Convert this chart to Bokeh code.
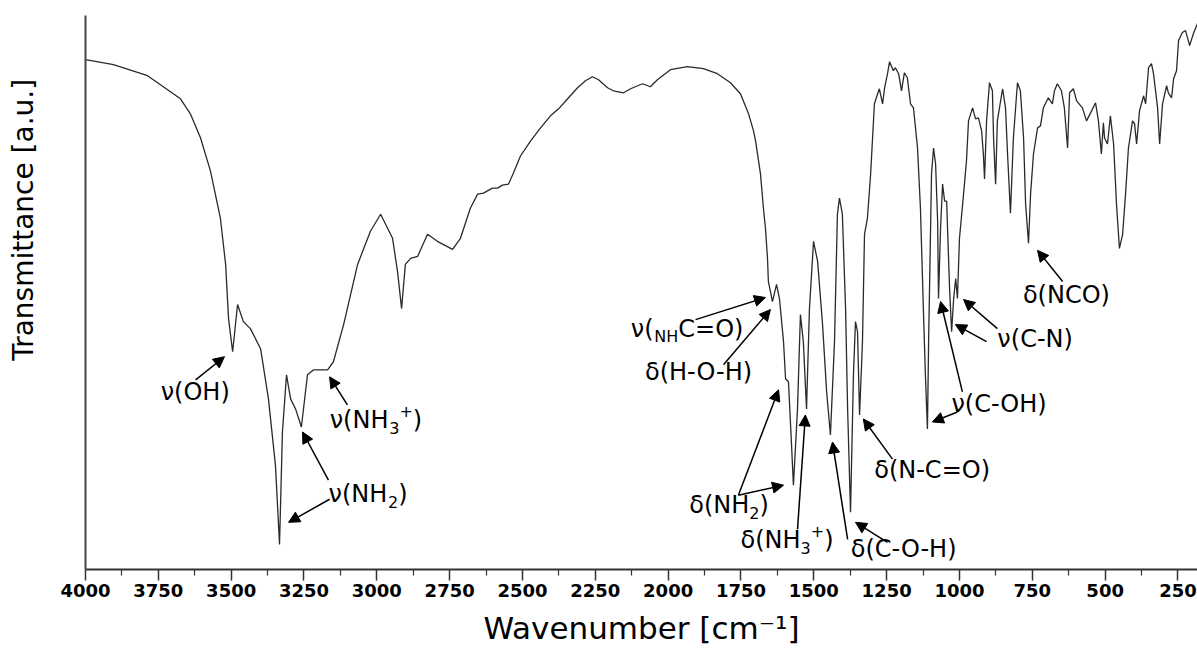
from math import pi

from bokeh.core.properties import value
from bokeh.embed import file_html
from bokeh.layouts import row
from bokeh.models import (Arrow, ColumnDataSource, FixedTicker, NormalHead,
                          Range1d)
from bokeh.plotting import figure
from bokeh.resources import INLINE

# ---------------- FTIR spectrum (wavenumber in cm^-1, transmittance in a.u.) ----------------
wn_high = [4000, 3904, 3787, 3674, 3640, 3605, 3571, 3537, 3519, 3509,
           3495, 3478, 3458, 3434, 3399, 3372, 3348, 3334, 3324, 3310,
           3296, 3279, 3259, 3238, 3217, 3169, 3149, 3114, 3066, 3022,
           2987, 2946, 2929, 2915, 2902, 2884, 2860, 2826, 2792, 2740,
           2713, 2679]
t_high = [101.2, 100.2, 98.0, 93.4, 90.4, 85.6, 79.0, 69.6, 60.4, 49.6,
          43.0, 52.4, 49.0, 47.6, 43.6, 33.6, 20.4, 4.6, 27.0, 38.4,
          33.6, 31.6, 28.0, 38.4, 39.4, 39.4, 41.0, 48.4, 60.4, 67.0,
          70.4, 65.6, 59.0, 51.6, 60.4, 61.6, 62.0, 66.4, 65.0, 63.4,
          65.6, 71.6]

wn_mid = [2654, 2634, 2603, 2586, 2569, 2548, 2531, 2507, 2472, 2438,
          2404, 2376, 2345, 2311, 2284, 2260, 2239, 2208, 2188, 2153,
          2129, 2088, 2061, 2037, 1992, 1934, 1879, 1831, 1786, 1752,
          1724, 1707, 1700, 1683, 1673, 1666, 1659, 1656]
t_mid = [74.4, 74.6, 75.6, 75.6, 76.2, 76.4, 78.6, 82.0, 85.0, 87.6,
         90.0, 91.4, 93.4, 95.6, 97.0, 97.8, 97.2, 95.6, 95.0, 94.6,
         95.4, 96.4, 95.8, 97.2, 99.2, 99.8, 99.4, 98.4, 96.6, 94.4,
         90.4, 87.0, 85.0, 78.4, 71.6, 67.6, 61.6, 57.0]

wn_fp1 = [1642, 1628, 1618, 1604, 1597, 1587, 1577, 1570, 1556, 1546,
          1536, 1525, 1515, 1501, 1487, 1470, 1456, 1443, 1429, 1419,
          1412, 1402, 1391, 1384, 1374, 1364, 1357, 1350, 1343, 1333,
          1326, 1316, 1305, 1292, 1281, 1275, 1264, 1257, 1247, 1240,
          1227, 1220, 1209, 1199, 1189, 1179, 1168, 1158, 1144, 1134,
          1124, 1117, 1110, 1106, 1096, 1089]
t_fp1 = [53.0, 56.4, 53.6, 45.0, 37.6, 37.0, 25.0, 16.4, 31.6, 50.4,
         45.0, 31.6, 51.6, 65.0, 61.0, 48.4, 35.0, 26.4, 45.0, 70.4,
         73.6, 70.4, 51.6, 31.6, 11.0, 38.4, 49.0, 47.0, 30.4, 45.0,
         66.4, 69.6, 78.4, 92.4, 94.4, 95.4, 92.4, 95.6, 98.4, 100.8,
         99.0, 99.6, 98.4, 95.0, 98.6, 97.6, 92.4, 91.6, 83.6, 71.6,
         51.6, 38.4, 27.6, 45.0, 78.4, 83.6]

wn_fp2 = [1082, 1075, 1072, 1065, 1058, 1051, 1044, 1041, 1034, 1027,
          1020, 1013, 1007, 1000, 986, 976, 969, 955, 945, 935,
          924, 918, 914, 907, 897, 887, 883, 876, 870, 852,
          842, 835, 825, 815, 801, 791, 780, 773, 763, 756,
          746, 732, 722, 712, 695, 681, 674, 664, 650, 640,
          629, 622, 609, 598, 578, 564, 550, 533, 523, 513,
          506, 502, 492, 482, 471, 461, 451, 440, 430, 420,
          406, 399, 392, 382, 368, 361, 351, 341, 334, 320,
          313, 303, 289, 283, 272, 265, 255, 248, 235, 224,
          210, 197, 183]
t_fp2 = [80.4, 69.0, 53.6, 67.6, 76.4, 73.0, 73.0, 67.6, 55.6, 47.0,
         53.6, 57.6, 53.6, 65.6, 74.4, 81.0, 89.0, 91.6, 89.4, 89.6,
         87.0, 82.4, 77.4, 89.0, 96.6, 95.0, 85.6, 76.4, 89.0, 95.4,
         91.6, 82.4, 70.6, 85.6, 96.6, 95.0, 85.6, 72.4, 64.6, 74.4,
         82.4, 87.6, 88.0, 91.6, 93.6, 92.4, 95.0, 96.4, 95.0, 91.6,
         83.6, 94.6, 95.4, 93.0, 91.6, 89.0, 90.6, 92.6, 89.0, 82.4,
         88.6, 85.6, 84.4, 90.0, 84.4, 72.4, 63.6, 66.4, 74.4, 83.6,
         89.0, 88.4, 84.4, 91.0, 94.0, 92.4, 99.6, 100.4, 98.4, 91.6,
         84.4, 92.4, 96.0, 94.6, 93.6, 97.4, 99.0, 105.0, 106.6, 107.0,
         104.0, 106.4, 108.4]

wavenumber = wn_high + wn_mid + wn_fp1 + wn_fp2
transmittance = t_high + t_mid + t_fp1 + t_fp2

# ---------------- axis ticks ----------------
major_ticks = [4000, 3750, 3500, 3250, 3000, 2750, 2500, 2250, 2000,
               1750, 1500, 1250, 1000, 750, 500, 250]
minor_ticks = [3875, 3625, 3375, 3125, 2875, 2625, 2375, 2125, 1875,
               1625, 1375, 1125, 875, 625, 375]

# ---------------- band assignments ----------------
# each label is a list of (text, style) runs: "n" normal, "sub" subscript, "sup" superscript
band_labels = [
    [("ν(OH)", "n")],
    [("ν(NH", "n"), ("3", "sub"), ("+", "sup"), (")", "n")],
    [("ν(NH", "n"), ("2", "sub"), (")", "n")],
    [("ν(", "n"), ("NH", "sub"), ("C=O)", "n")],
    [("δ(H-O-H)", "n")],
    [("δ(NH", "n"), ("2", "sub"), (")", "n")],
    [("δ(NH", "n"), ("3", "sub"), ("+", "sup"), (")", "n")],
    [("δ(C-O-H)", "n")],
    [("δ(N-C=O)", "n")],
    [("ν(C-OH)", "n")],
    [("ν(C-N)", "n")],
    [("δ(NCO)", "n")],
]
band_label_wn = [3622, 3003, 3030, 1935, 1898, 1791, 1592, 1194, 1094, 864, 739, 633]
band_label_t = [35.0, 29.4, 14.6, 47.6, 39.0, 12.4, 5.4, 3.6, 19.4, 32.6, 45.6, 54.4]

# arrows: from label (tail) to band (head)
arrow_tail_wn = [3622, 3101, 3166, 3162, 1906, 1810, 1759, 1759, 1556,
                 1384, 1247, 1230, 990, 1007, 870, 907, 646]
arrow_tail_t = [37.4, 32.4, 17.4, 13.6, 49.4, 40.4, 14.4, 14.4, 7.6,
                5.6, 5.0, 21.6, 35.0, 31.0, 47.6, 45.0, 57.0]
arrow_head_wn = [3523, 3162, 3255, 3303, 1666, 1649, 1621, 1604, 1529,
                 1436, 1357, 1330, 1065, 1093, 986, 1014, 732]
arrow_head_t = [42.0, 38.0, 27.0, 9.0, 53.8, 51.4, 35.4, 16.4, 30.4,
                25.0, 9.0, 29.6, 53.0, 29.0, 53.4, 48.4, 63.2]

y_title = "Transmittance [a.u.]"
x_title = "Wavenumber [cm⁻¹]"

FONT = "DejaVu Sans"
MAIN_PX = 24
SMALL_PX = 16
PX_PER_T = 5.0  # vertical pixels per transmittance unit

# approximate DejaVu Sans advance widths (fraction of em)
ADVANCE = {"ν": 0.592, "δ": 0.612, "(": 0.390, ")": 0.390, "O": 0.787, "H": 0.752,
           "N": 0.748, "C": 0.698, "-": 0.361, "=": 0.838, "+": 0.838,
           "2": 0.636, "3": 0.636}
STYLE_SIZE = {"n": MAIN_PX, "sub": SMALL_PX, "sup": SMALL_PX}
STYLE_SHIFT = {"n": 0.0, "sub": -8.0, "sup": 9.0}  # centre shift in px (up positive)


def run_width(txt, px):
    return sum(ADVANCE.get(ch, 0.6) for ch in txt) * px


# ---------------- narrow side panel holding the rotated y title ----------------
SIDE_W, H = 55, 648
side = figure(width=SIDE_W, height=H, output_backend="svg", toolbar_location=None,
              x_range=Range1d(0, SIDE_W), y_range=Range1d(0, H),
              x_axis_location=None, y_axis_location=None, min_border=0)
side.outline_line_color = None
side.xgrid.visible = False
side.ygrid.visible = False
side.text(x=[23], y=[H - 239], text=[y_title], angle=pi / 2,
          text_font=value(FONT), text_font_size="28px", text_align="center",
          text_baseline="middle", text_color="black")

# ---------------- spectrum panel ----------------
p = figure(width=1197 - SIDE_W, height=H, output_backend="svg", toolbar_location=None,
           x_range=Range1d(4000, 183), y_range=Range1d(-0.4, 110),
           min_border_left=30, min_border_right=0, min_border_top=15,
           min_border_bottom=0)
p.outline_line_color = None
p.xgrid.visible = False
p.ygrid.visible = False
p.background_fill_color = "white"
p.border_fill_color = "white"

p.line(wavenumber, transmittance, line_color="#2a2a2a", line_width=1.3)

# x axis
xa = p.xaxis[0]
xa.ticker = FixedTicker(ticks=major_ticks, minor_ticks=minor_ticks)
xa.axis_line_color = "#333333"
xa.axis_line_width = 2
xa.major_tick_line_color = "#333333"
xa.major_tick_line_width = 1.5
xa.major_tick_in = 0
xa.major_tick_out = 11
xa.minor_tick_line_color = "#333333"
xa.minor_tick_line_width = 1.2
xa.minor_tick_in = 0
xa.minor_tick_out = 6
xa.major_label_text_font = FONT
xa.major_label_text_font_style = "bold"
xa.major_label_text_font_size = "18px"
xa.major_label_text_color = "black"
xa.major_label_standoff = 3
xa.axis_label = x_title
xa.axis_label_text_font = FONT
xa.axis_label_text_font_style = "normal"
xa.axis_label_text_font_size = "31px"
xa.axis_label_text_color = "black"
xa.axis_label_standoff = 10

# y axis: a plain line without ticks
ya = p.yaxis[0]
ya.ticker = FixedTicker(ticks=[])
ya.axis_line_color = "#444444"
ya.axis_line_width = 2
ya.major_tick_out = 0
ya.major_tick_in = 0
ya.minor_tick_out = 0
ya.minor_tick_in = 0
ya.major_label_standoff = 0

# band labels, laid out run by run around each label centre
xs, ys, texts, sizes, dxs = [], [], [], [], []
for runs, wn, t in zip(band_labels, band_label_wn, band_label_t):
    total = sum(run_width(txt, STYLE_SIZE[st]) for txt, st in runs)
    cursor = -total / 2.0
    for txt, st in runs:
        xs.append(wn)
        ys.append(t + STYLE_SHIFT[st] / PX_PER_T)
        texts.append(txt)
        sizes.append(f"{STYLE_SIZE[st]}px")
        dxs.append(cursor)
        cursor += run_width(txt, STYLE_SIZE[st])

lab_src = ColumnDataSource(dict(x=xs, y=ys, text=texts, size=sizes, dx=dxs))
p.text(x="x", y="y", text="text", source=lab_src, text_font=value(FONT),
       text_font_size="size", x_offset="dx", text_align="left",
       text_baseline="middle", text_color="black")

arrow_src = ColumnDataSource(dict(x0=arrow_tail_wn, y0=arrow_tail_t,
                                  x1=arrow_head_wn, y1=arrow_head_t))
p.add_layout(Arrow(x_start="x0", y_start="y0", x_end="x1", y_end="y1",
                   source=arrow_src, line_color="black", line_width=1.5,
                   end=NormalHead(size=11, fill_color="black", line_color="black",
                                  line_width=1)))

layout = row(side, p, spacing=0)
open("out.html", "w").write(file_html(layout, INLINE))
